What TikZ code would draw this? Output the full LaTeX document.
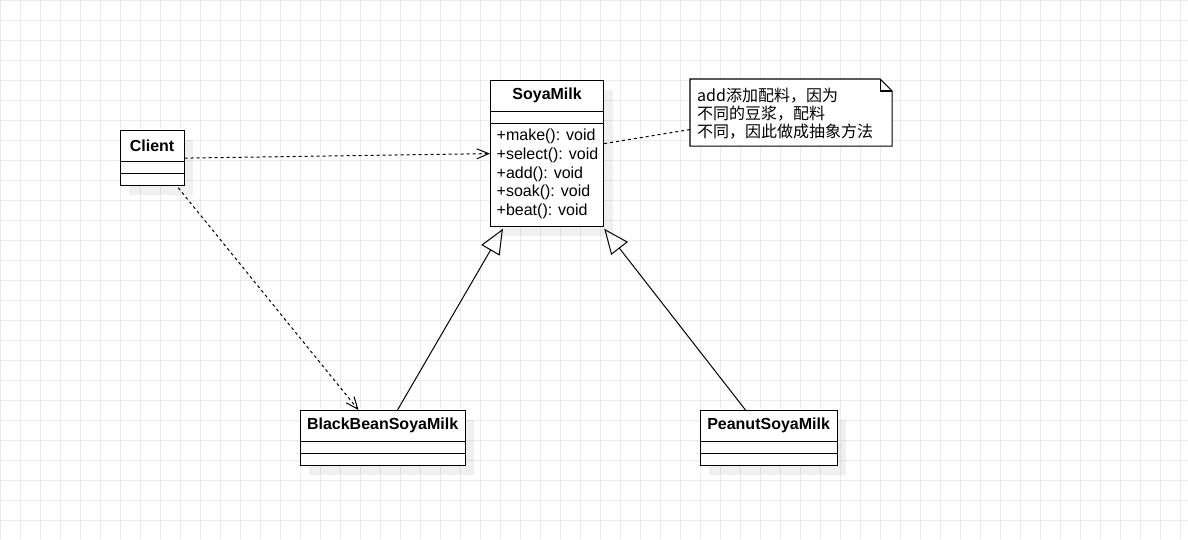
\documentclass[tikz,border=0pt]{standalone}
\usepackage{fontspec}
\setmainfont{Liberation Sans}
\newfontfamily\cjk{Noto Sans CJK SC}
\usetikzlibrary{arrows.meta,shadows,calc}
\definecolor{ink}{HTML}{000000}
\definecolor{gitterfarbe}{HTML}{EBEBEB}
\newcommand{\txt}{\fontsize{16}{18.6}\selectfont}
\tikzset{klasse/.style={draw=ink,fill=white,line width=1.2pt,inner sep=0,anchor=north west,
    drop shadow={shadow xshift=9pt,shadow yshift=-9pt,fill=black,opacity=0.06}},
  titel/.style={font=\txt\bfseries,inner sep=0,text=ink},
  methode/.style={font=\txt,inner sep=0,text=ink,anchor=west},
  abh/.style={ink,line width=1pt,dash pattern=on 3pt off 3pt,
    -{Straight Barb[length=12pt,width=10pt,line width=1pt]}},
  erbt/.style={ink,line width=1pt,-{Triangle[open,length=25pt,width=21pt,line width=1pt]}},
  notizlinie/.style={ink,line width=1pt,dash pattern=on 3pt off 3pt},
  gitter/.style={gitterfarbe,line width=1pt}}
% name, x, y, width, height, title
\newcommand{\klasse}[6]{%
  \node[klasse,minimum width=#4,minimum height=#5] (#1) at (#2,#3) {};
  \node[titel] (#1-titel) at ($(#1.north)+(0,15.8)$) {#6};
  \draw[ink,line width=1.2pt] ($(#1.north west)+(0,31.7)$) -- ($(#1.north east)+(0,31.7)$)
    ($(#1.north west)+(0,43.3)$) -- ($(#1.north east)+(0,43.3)$);}
\begin{document}
\begin{tikzpicture}[x=1pt,y=-1pt]
\useasboundingbox (0,0) rectangle (1188,539);
\fill[white] (0,0) rectangle (1188,539);
% grid
\foreach \gx in {0,20,...,1180} \draw[gitter] (\gx+0.5,0) -- (\gx+0.5,539);
\foreach \gy in {0,20,...,520} \draw[gitter] (0,\gy+0.5) -- (1188,\gy+0.5);
% classes
\klasse{client}{119.5}{130}{64}{55}{Client}
\klasse{soya}{490}{80}{113}{146}{SoyaMilk}
\klasse{bb}{299.5}{410}{165}{55}{BlackBeanSoyaMilk}
\klasse{peanut}{699.5}{410}{137}{55}{PeanutSoyaMilk}
\foreach \m [count=\i] in {make,select,add,soak,beat}
  \node[methode] (soya-m\i) at ($(soya.north west)+(6.5,{38.1+18.6*\i})$) {+\m(): void};
% note
\node[minimum width=201.7,minimum height=66.7,inner sep=0,anchor=north west] (notiz) at (690,79) {};
\draw[ink,line width=1.2pt,fill=white] (notiz.north west) -- ($(notiz.north east)+(-12,0)$)
  -- ($(notiz.north east)+(0,12)$) -- (notiz.south east) -- (notiz.south west) -- cycle;
\draw[ink,line width=1.2pt] ($(notiz.north east)+(-12,0)$) -- ($(notiz.north east)+(-12,12)$)
  -- ($(notiz.north east)+(0,12)$);
\node[anchor=west,align=left,inner sep=0,text=ink,font=\cjk\fontsize{16}{18.2}\selectfont]
  (notiztext) at ($(notiz.west)+(7,1)$) {add添加配料，因为\\不同的豆浆，配料\\不同，因此做成抽象方法};
% connectors
\draw[abh] (client.east) -- (soya.west);
\draw[abh] ($(client.south east)+(-6.5,1.5)$) -- ($(bb.north west)+(59,0)$);
\draw[erbt] ($(bb.north west)+(98,0)$) -- ($(soya.south west)+(13,1.5)$);
\draw[erbt] ($(peanut.north west)+(46,0)$) -- ($(soya.south east)+(0,1.5)$);
\draw[notizlinie] ($(soya.east)+(0,-10)$) -- ($(notiz.west)+(0,17)$);
\end{tikzpicture}
\end{document}
